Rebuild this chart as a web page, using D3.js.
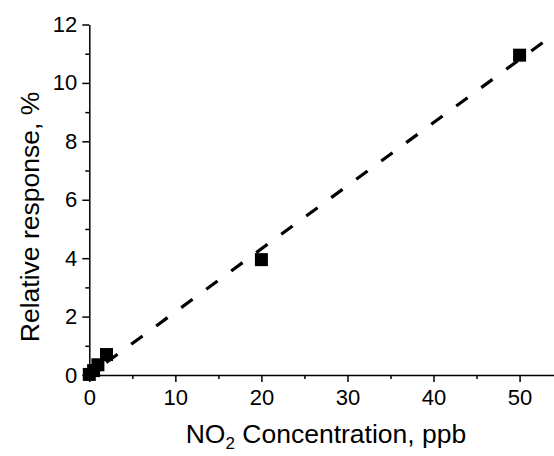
<!DOCTYPE html>
<html>
<head>
<meta charset="utf-8">
<script src="https://cdn.jsdelivr.net/npm/d3@7"></script>
<style>
  body { margin: 0; background: #fff; }
  text { font-family: "Liberation Sans", Arial, sans-serif; fill: #000; }
</style>
</head>
<body>
<div id="container"></div>
<script>
/* CONSTANTS AND GLOBALS */
const width = 554,
  height = 456,
  margin = { top: 24.5, right: 0, bottom: 81, left: 89.3 };

// measured points (NO2 ppb, relative response %)
const concentration = [0, 0.5, 1, 2, 20, 50];
const response = [0.02, 0.15, 0.35, 0.7, 3.95, 10.95];

// linear fit drawn as dashed line
const fitX = [0, 54];
const fitSlope = 0.216;
const fitIntercept = 0;

const xTicks = [0, 10, 20, 30, 40, 50];
const xMinor = [5, 15, 25, 35, 45];
const yTicks = [0, 2, 4, 6, 8, 10, 12];
const yMinor = [1, 3, 5, 7, 9, 11];

const xScale = d3.scaleLinear()
  .domain([0, 54])
  .range([margin.left, width - margin.right]);

const yScale = d3.scaleLinear()
  .domain([0, 12])
  .range([height - margin.bottom, margin.top]);

const svg = d3.select("#container")
  .append("svg")
  .attr("width", width)
  .attr("height", height);

// + AXES
svg.append("g")
  .attr("transform", `translate(0, ${yScale(0)})`)
  .call(d3.axisBottom(xScale).tickValues(xTicks).tickSize(7).tickPadding(7).tickSizeOuter(0));

svg.append("g")
  .attr("transform", `translate(0, ${yScale(0)})`)
  .call(d3.axisBottom(xScale).tickValues(xMinor).tickSize(4).tickFormat("").tickSizeOuter(0))
  .select(".domain").remove();

svg.append("g")
  .attr("transform", `translate(${xScale(0)}, 0)`)
  .call(d3.axisLeft(yScale).tickValues(yTicks).tickSize(7).tickPadding(5).tickSizeOuter(0));

svg.append("g")
  .attr("transform", `translate(${xScale(0)}, 0)`)
  .call(d3.axisLeft(yScale).tickValues(yMinor).tickSize(4).tickFormat("").tickSizeOuter(0))
  .select(".domain").remove();

svg.selectAll(".domain, .tick line")
  .attr("stroke", "#000")
  .attr("stroke-width", 1.5);

svg.selectAll(".tick text")
  .style("font-size", "22px")
  .style("font-family", "'Liberation Sans', Arial, sans-serif");

// + FIT LINE
const lineGen = d3.line()
  .x(d => xScale(d))
  .y(d => yScale(fitSlope * d + fitIntercept));

svg.append("path")
  .datum(fitX)
  .attr("d", lineGen)
  .attr("fill", "none")
  .attr("stroke", "#000")
  .attr("stroke-width", 3.2)
  .attr("stroke-dasharray", "14,17")
  .attr("stroke-dashoffset", 10);

// + POINTS
const sq = 13;
svg.selectAll("rect.pt")
  .data(concentration.map((c, i) => ({ x: c, y: response[i] })))
  .join("rect")
  .attr("class", "pt")
  .attr("x", d => xScale(d.x) - sq / 2)
  .attr("y", d => yScale(d.y) - sq / 2)
  .attr("width", sq)
  .attr("height", sq)
  .attr("fill", "#000");

// + AXIS TITLES
const xLabel = svg.append("text")
  .attr("x", 326)
  .attr("y", 443)
  .attr("text-anchor", "middle")
  .style("font-size", "26.5px");
xLabel.append("tspan").text("NO");
xLabel.append("tspan").attr("dy", 6).style("font-size", "17px").text("2");
xLabel.append("tspan").attr("dy", -6).text(" Concentration, ppb");

svg.append("text")
  .attr("transform", `translate(39, 217) rotate(-90)`)
  .attr("text-anchor", "middle")
  .style("font-size", "26.5px")
  .text("Relative response, %");
</script>
</body>
</html>
